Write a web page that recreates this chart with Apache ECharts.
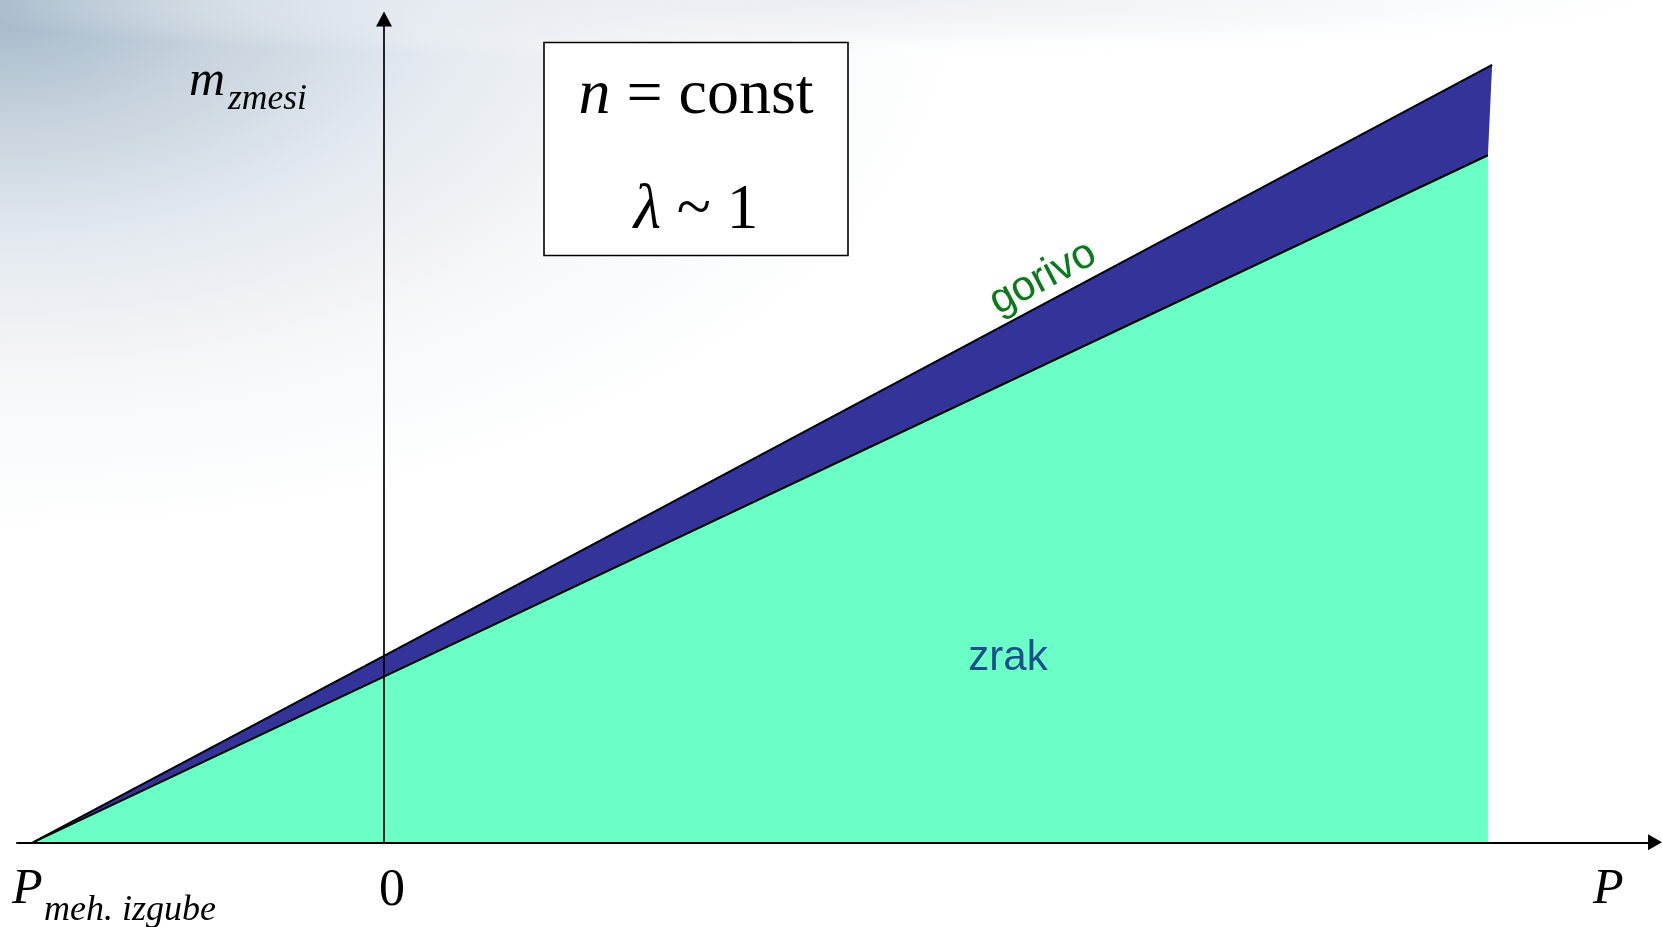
<!DOCTYPE html>
<html>
<head>
<meta charset="utf-8">
<title>m zmesi – P</title>
<script src="https://cdn.jsdelivr.net/npm/echarts@6/dist/echarts.min.js"></script>
<style>
  html, body { margin: 0; padding: 0; background: #ffffff; }
  #chart { width: 1662px; height: 927px; }
</style>
</head>
<body>
<div id="chart"></div>
<script>
// Power axis: mechanical-loss point (negative), zero, full load
const powerPoints = [-10, 0, 31.45];
// Air mass flow (lower edge of the fuel band)
const airMass = [0, 4.72, 19.57];
// Mixture mass flow = air + fuel (upper edge)
const mixPower = [-10, 0, 31.57];
const mixMass = [0, 5.31, 22.14];

// Axis extents
const xRange = [-10.456, 36.21];
const yRange = [0, 23.45];

const serif = '"Liberation Serif", "Times New Roman", serif';
const sans = '"Liberation Sans", Arial, sans-serif';

const airData = powerPoints.map((p, i) => [p, airMass[i]]);
const mixData = mixPower.map((p, i) => [p, mixMass[i]]);

const chart = echarts.init(document.getElementById('chart'), null, { renderer: 'canvas' });

function serifText(text, x, y, size, opts) {
  return {
    type: 'text',
    x: x, y: y,
    style: {
      text: text,
      font: (opts && opts.italic ? 'italic ' : '') + size + 'px ' + serif,
      fill: '#000',
      align: (opts && opts.align) || 'left',
      verticalAlign: 'middle'
    },
    z: 10
  };
}

const option = {
  animation: false,
  backgroundColor: '#ffffff',
  grid: { left: 17, right: 7, top: 19, bottom: 84.7, containLabel: false },
  xAxis: {
    type: 'value',
    min: xRange[0], max: xRange[1],
    z: 10,
    axisLine: {
      show: true, onZero: true,
      symbol: ['none', 'triangle'], symbolSize: [16, 14],
      lineStyle: { color: '#000', width: 2 }
    },
    axisTick: { show: false }, axisLabel: { show: false }, splitLine: { show: false }
  },
  yAxis: {
    type: 'value',
    min: yRange[0], max: yRange[1],
    z: 10,
    axisLine: {
      show: true, onZero: true,
      symbol: ['none', 'triangle'], symbolSize: [16, 15],
      lineStyle: { color: '#000', width: 1.7 }
    },
    axisTick: { show: false }, axisLabel: { show: false }, splitLine: { show: false }
  },
  graphic: [
    // soft blue-grey shading in the upper-left corner
    {
      type: 'rect', x: 0, y: 0, z: -100, silent: true,
      shape: { width: 1662, height: 927 },
      style: {
        fill: {
          type: 'radial', x: 0, y: 0, r: 1, global: false,
          colorStops: [
            { offset: 0, color: '#a1b6c7' },
            { offset: 0.22, color: '#c6d2dd' },
            { offset: 0.45, color: '#e3e9ef' },
            { offset: 0.7, color: '#f5f7f9' },
            { offset: 1, color: '#ffffff' }
          ]
        }
      },
      scaleX: 1.05, scaleY: 0.58
    },
    // faint grey haze along the top edge
    {
      type: 'rect', x: 0, y: 0, z: -99, silent: true,
      shape: { width: 1662, height: 927 },
      style: {
        fill: {
          type: 'radial', x: 0.5, y: 0, r: 1, global: false,
          colorStops: [
            { offset: 0, color: 'rgba(226,231,238,0.7)' },
            { offset: 0.6, color: 'rgba(236,240,244,0.4)' },
            { offset: 1, color: 'rgba(255,255,255,0)' }
          ]
        }
      },
      scaleY: 0.065
    },
    // parameter box
    {
      type: 'rect', x: 544, y: 42.5, z: 5,
      shape: { width: 304, height: 213 },
      style: { fill: '#ffffff', stroke: '#000', lineWidth: 1.6 }
    },
    {
      type: 'text', x: 696, y: 96, z: 10,
      style: {
        text: '{i|n}{r| = const}',
        align: 'center', verticalAlign: 'middle',
        rich: {
          i: { fontFamily: serif, fontSize: 64, fontStyle: 'italic', fill: '#000' },
          r: { fontFamily: serif, fontSize: 64, fill: '#000' }
        }
      }
    },
    {
      type: 'text', x: 696, y: 211, z: 10,
      style: {
        text: '{i|λ}{r| ~ 1}',
        align: 'center', verticalAlign: 'middle',
        rich: {
          i: { fontFamily: serif, fontSize: 63, fontStyle: 'italic', fill: '#000' },
          r: { fontFamily: serif, fontSize: 63, fill: '#000' }
        }
      }
    },
    // y-axis name
    serifText('m', 189, 82, 50, { italic: true }),
    serifText('zmesi', 228, 100, 35.5, { italic: true }),
    // x-axis names
    serifText('P', 12, 890, 50, { italic: true }),
    serifText('meh. izgube', 44, 911, 36, { italic: true }),
    serifText('0', 392, 891, 52, { align: 'center' }),
    serifText('P', 1593, 890, 50, { italic: true }),
    // band labels
    {
      type: 'text', x: 1043, y: 278, z: 10, rotation: 28 * Math.PI / 180,
      style: {
        text: 'gorivo', font: '42px ' + sans, fill: '#0b7a1a',
        align: 'center', verticalAlign: 'middle'
      }
    },
    {
      type: 'text', x: 1008, y: 658, z: 10,
      style: {
        text: 'zrak', font: '42px ' + sans, fill: '#1a4f8b',
        align: 'center', verticalAlign: 'middle'
      }
    }
  ],
  series: [
    {
      // fuel band between the air line and the mixture line
      name: 'gorivo',
      type: 'custom',
      coordinateSystem: 'cartesian2d',
      data: [[0, 0]],
      z: 1,
      renderItem: function (params, api) {
        const pts = [];
        mixData.forEach(d => pts.push(api.coord(d)));
        for (let i = airData.length - 1; i >= 0; i--) pts.push(api.coord(airData[i]));
        return {
          type: 'polygon',
          shape: { points: pts },
          style: { fill: '#333399', stroke: null }
        };
      }
    },
    {
      name: 'zrak',
      type: 'line',
      data: airData,
      symbol: 'none',
      z: 2,
      lineStyle: { color: '#000', width: 2 },
      areaStyle: { color: '#6bffc7', opacity: 1 }
    },
    {
      name: 'zmes',
      type: 'line',
      data: mixData,
      symbol: 'none',
      z: 3,
      lineStyle: { color: '#000', width: 2 }
    }
  ]
};

chart.setOption(option);
</script>
</body>
</html>
